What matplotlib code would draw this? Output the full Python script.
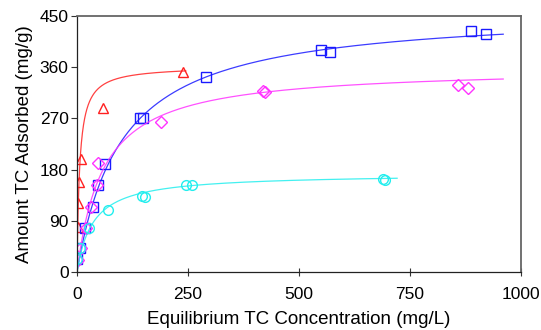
import numpy as np
import matplotlib
matplotlib.use("Agg")
import matplotlib.pyplot as plt

plt.rcParams['font.family'] = ['Liberation Sans', 'DejaVu Sans']

# equilibrium concentration (mg/L) and amount adsorbed (mg/g)
red_c = [2, 2.5, 5, 9, 58, 239]
red_q = [79, 121, 158, 199, 288, 351]

blue_c = [1, 7, 18, 35, 47, 63, 142, 149, 291, 550, 570, 887, 921]
blue_q = [23, 42, 77, 114, 153, 190, 271, 271, 343, 390, 387, 424, 418]

mag_c = [2, 9, 20, 32, 45, 47, 189, 419, 423, 858, 881]
mag_q = [21, 42, 77, 114, 153, 192, 263, 318, 316, 329, 323]

cyan_c = [1, 7, 27, 70, 146, 153, 245, 259, 689, 694]
cyan_q = [23, 42, 77, 109, 133, 132, 153, 153, 163, 162]

# Langmuir fit parameters (qm, K) and range of the fitted curves
red_fit = (362, 0.17, 245)
blue_fit = (462, 0.0099, 960)
mag_fit = (360, 0.017, 960)
cyan_fit = (173, 0.0278, 721)

x_ticks = [0, 250, 500, 750, 1000]
y_ticks = [0, 90, 180, 270, 360, 450]


def langmuir(fit):
    qm, k, cmax = fit
    c = np.linspace(0, cmax, 400)
    return c, qm * k * c / (1 + k * c)


fig = plt.figure(figsize=(5.41, 3.30), dpi=100)
ax = fig.add_axes([0.1423, 0.1758, 0.8207, 0.7757])

series = [
    (red_c, red_q, red_fit, '#ff2020', '^'),
    (blue_c, blue_q, blue_fit, '#1a1aff', 's'),
    (mag_c, mag_q, mag_fit, '#ff33ff', 'D'),
    (cyan_c, cyan_q, cyan_fit, '#22eeee', 'o'),
]
for c, q, fit, col, mk in series:
    fc, fq = langmuir(fit)
    ax.plot(fc, fq, '-', color=col, lw=0.9, alpha=0.85)
    ax.plot(c, q, mk, mfc='none', mec=col, mew=1.0,
            ms=7 if mk != 'D' else 6, ls='none')

ax.set_xlim(0, 1000)
ax.set_ylim(0, 450)
ax.set_xticks(x_ticks)
ax.set_yticks(y_ticks)
ax.tick_params(axis='x', direction='inout', length=6, width=0.8,
               labelsize=12.5, colors='#333333', labelcolor='black', pad=8)
ax.tick_params(axis='y', direction='out', length=4, width=0.8,
               labelsize=12.5, colors='#333333', labelcolor='black', pad=2)
for s in ['left', 'bottom']:
    ax.spines[s].set_color('#222222')
    ax.spines[s].set_linewidth(0.9)
for s in ['top', 'right']:
    ax.spines[s].set_color('#666666')
    ax.spines[s].set_linewidth(1.3)

ax.set_xlabel('Equilibrium TC Concentration (mg/L)', fontsize=13.5, labelpad=6)
ax.set_ylabel('Amount TC Adsorbed (mg/g)', fontsize=13.5, labelpad=5)

fig.savefig('out.png', dpi=100)
